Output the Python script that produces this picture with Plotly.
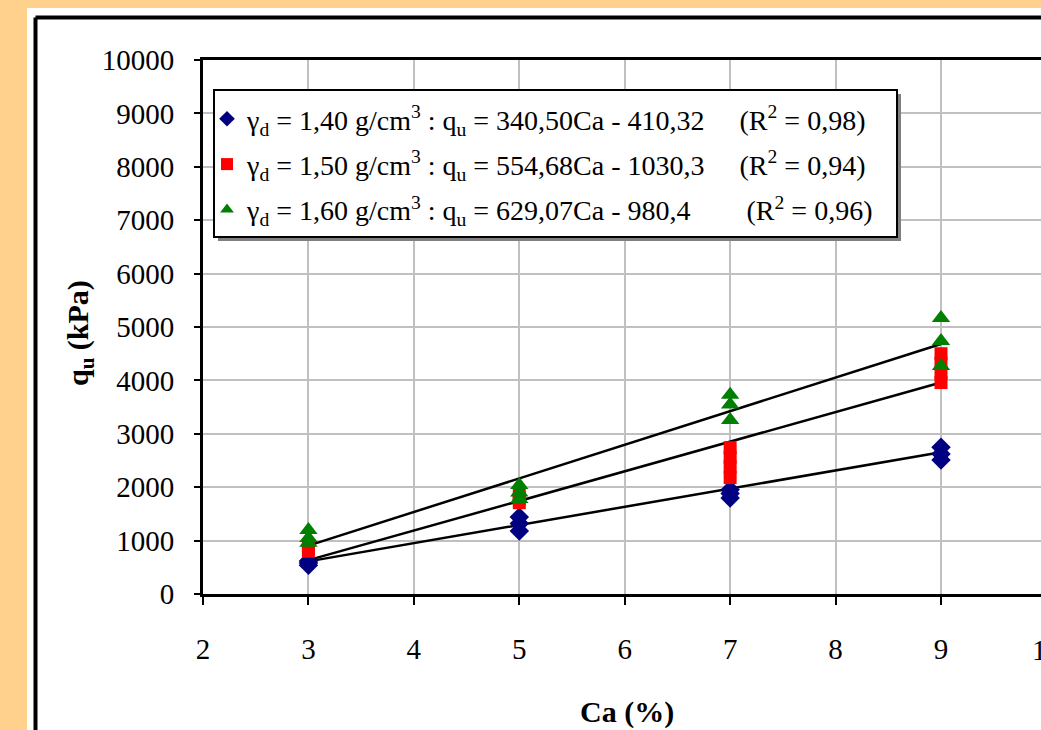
import plotly.graph_objects as go

# ---------------- data ----------------
ca_140 = [3, 3, 3, 5, 5, 5, 7, 7, 7, 9, 9, 9]
qu_140 = [540, 580, 620, 1180, 1320, 1440, 1800, 1880, 1950, 2510, 2620, 2750]
ca_150 = [3, 3, 3, 5, 5, 5, 7, 7, 7, 7, 9, 9, 9, 9]
qu_150 = [800, 850, 900, 1710, 1780, 1850, 2180, 2380, 2560, 2740, 3960, 4140, 4320, 4500]
ca_160 = [3, 3, 3, 5, 5, 5, 7, 7, 7, 9, 9, 9]
qu_160 = [960, 1050, 1200, 1780, 1900, 2040, 3260, 3550, 3730, 4270, 4740, 5170]

# trendline coefficients (slope, intercept) as printed in the legend
fit_140 = (340.50, -410.32)
fit_150 = (554.68, -1030.3)
fit_160 = (629.07, -980.4)
fit_x = [3, 9]

legend_main = [
    "γ<sub>d</sub> = 1,40 g/cm<sup>3</sup> : q<sub>u</sub> = 340,50Ca - 410,32",
    "γ<sub>d</sub> = 1,50 g/cm<sup>3</sup> : q<sub>u</sub> = 554,68Ca - 1030,3",
    "γ<sub>d</sub> = 1,60 g/cm<sup>3</sup> : q<sub>u</sub> = 629,07Ca - 980,4",
]
legend_r2 = ["(R<sup>2</sup> = 0,98)", "(R<sup>2</sup> = 0,94)", "(R<sup>2</sup> = 0,96)"]
pads = [5, 5, 8]

x_ticks = [2, 3, 4, 5, 6, 7, 8, 9]
y_ticks = [0, 1000, 2000, 3000, 4000, 5000, 6000, 7000, 8000, 9000, 10000]

# ---------------- layout geometry ----------------
W, H = 1041, 730
L, T, B = 203, 60, 136
PW, PH = W - L, H - T - B
X_PER_UNIT = (941 - 203) / 7.0


def xp(px):
    return (px - L) / PW


def yp(py):
    return (H - B - py) / PH


FONT = "Liberation Serif, Times New Roman, DejaVu Serif, serif"
fig = go.Figure()

series = [
    (ca_140, qu_140, fit_140, "diamond", "#000080", 15),
    (ca_150, qu_150, fit_150, "square", "#FF0000", 13),
    (ca_160, qu_160, fit_160, "triangle-up", "#008000", 16),
]

# trendlines
for xs, vals, (a, b), sym, col, size in series:
    fig.add_trace(go.Scatter(
        x=fit_x, y=[a * v + b for v in fit_x], mode="lines",
        line=dict(color="black", width=2.5), showlegend=False, hoverinfo="skip"))

# markers
for i, (xs, vals, fit, sym, col, size) in enumerate(series):
    name = legend_main[i] + "\u00a0" * pads[i] + legend_r2[i]
    fig.add_trace(go.Scatter(
        x=xs, y=vals, mode="markers", name=name, legendgroup=str(i),
        marker=dict(symbol=sym, color=col, size=size, line=dict(width=0)),
        cliponaxis=False))

shapes = [
    # white card
    dict(type="rect", xref="paper", yref="paper", x0=xp(27), x1=xp(1060), y0=yp(8), y1=yp(760),
         fillcolor="white", line=dict(width=0), layer="below"),
    # outer black frame
    dict(type="line", xref="paper", yref="paper", x0=xp(35.5), x1=xp(1060), y0=yp(17.5), y1=yp(17.5),
         line=dict(color="black", width=4), layer="below"),
    dict(type="line", xref="paper", yref="paper", x0=xp(35.5), x1=xp(35.5), y0=yp(17.5), y1=yp(760),
         line=dict(color="black", width=4), layer="below"),
    # legend shadow + box
    dict(type="rect", xref="paper", yref="paper", x0=xp(218), x1=xp(901), y0=yp(94), y1=yp(241),
         fillcolor="#808080", line=dict(width=0), layer="above"),
    dict(type="rect", xref="paper", yref="paper", x0=xp(214), x1=xp(897), y0=yp(90), y1=yp(237),
         fillcolor="white", line=dict(color="black", width=2), layer="above"),
]

annotations = [
    dict(text="<b>Ca (%)</b>", xref="paper", yref="paper", x=xp(627), y=yp(712),
         xanchor="center", yanchor="middle", showarrow=False,
         font=dict(family=FONT, size=30, color="black")),
    dict(text="<b>q<sub>u</sub> (kPa)</b>", xref="paper", yref="paper", x=xp(80), y=yp(333),
         xanchor="center", yanchor="middle", showarrow=False, textangle=-90,
         font=dict(family=FONT, size=30, color="black")),
    dict(text="10", xref="paper", yref="paper", x=xp(1046), y=yp(650),
         xanchor="center", yanchor="middle", showarrow=False,
         font=dict(family=FONT, size=29, color="black")),
]

fig.update_layout(
    width=W, height=H,
    margin=dict(l=L, r=0, t=T, b=B, pad=0),
    paper_bgcolor="#FFD18D",
    plot_bgcolor="white",
    shapes=shapes,
    annotations=annotations,
    showlegend=True,
    legend=dict(x=xp(207), y=yp(94), xanchor="left", yanchor="top",
                bgcolor="rgba(0,0,0,0)", borderwidth=0, tracegroupgap=6,
                font=dict(family=FONT, size=28, color="black"),
                itemsizing="constant"),
    font=dict(family=FONT, color="black"),
)

fig.update_xaxes(
    range=[2, 2 + PW / X_PER_UNIT], tickvals=x_ticks, ticktext=[str(v) for v in x_ticks],
    showgrid=True, gridcolor="#C0C0C0", gridwidth=2,
    showline=True, linecolor="black", linewidth=3, mirror=True,
    ticks="outside", ticklen=8, tickwidth=2, tickcolor="black",
    tickfont=dict(family=FONT, size=29, color="black"), ticklabelstandoff=19,
    zeroline=False,
)
fig.update_yaxes(
    range=[0, 10000], tickvals=y_ticks, ticktext=[str(v) for v in y_ticks],
    showgrid=True, gridcolor="#C0C0C0", gridwidth=2,
    showline=True, linecolor="black", linewidth=3, mirror=False,
    ticks="outside", ticklen=6, tickwidth=2, tickcolor="black",
    tickfont=dict(family=FONT, size=29, color="black"), ticklabelstandoff=14,
    zeroline=False,
)

fig.write_html(
    "out.html",
    config={"displayModeBar": False},
    post_script="document.body.style.margin='0';document.body.style.overflow='hidden';",
)
